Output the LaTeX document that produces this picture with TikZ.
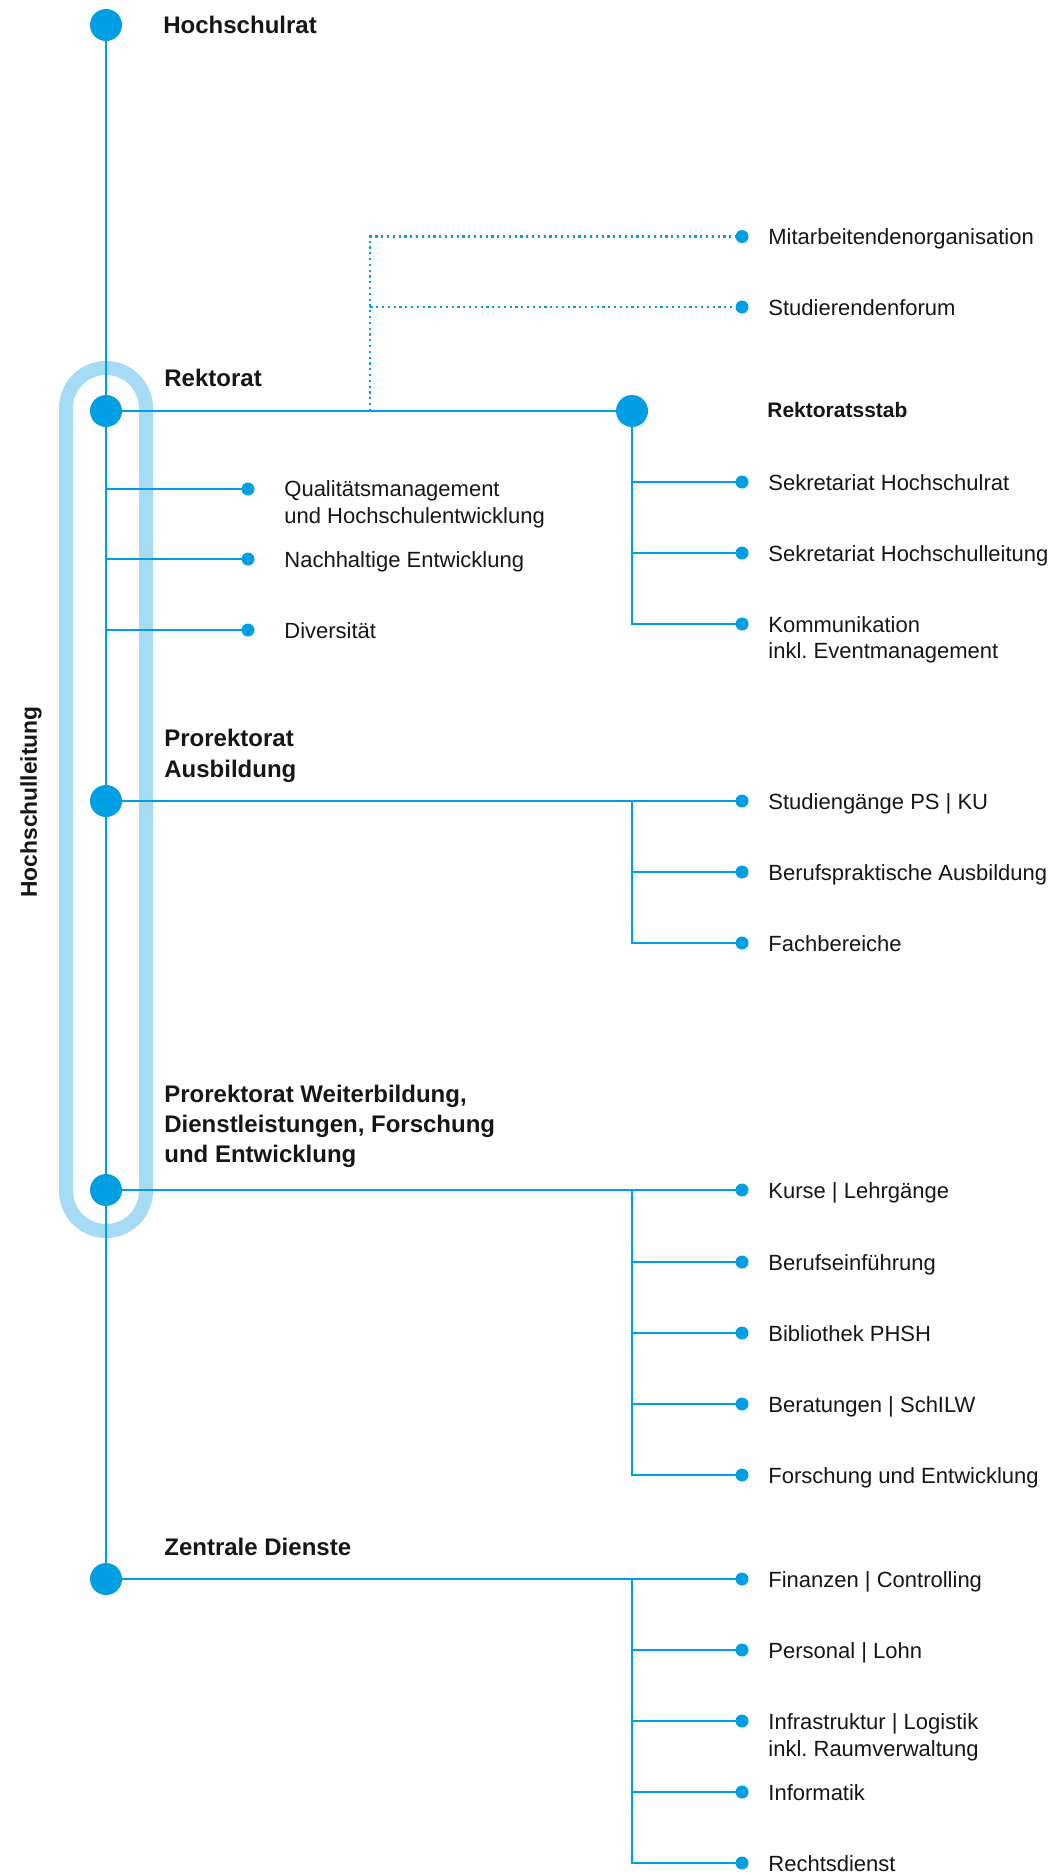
\documentclass[tikz,border=0pt]{standalone}
\usepackage{fontspec}
\setmainfont{Liberation Sans}
\usetikzlibrary{backgrounds}
\definecolor{phblue}{RGB}{0,159,227}
\definecolor{phlight}{RGB}{166,219,246}
\definecolor{ink}{RGB}{22,22,22}
\frenchspacing
\begin{document}
\begin{tikzpicture}[x=0.5pt,y=-0.5pt,
  big/.style={circle,fill=phblue,inner sep=0pt,minimum size=16pt},
  dot/.style={circle,fill=phblue,inner sep=0pt,minimum size=6.5pt},
  conn/.style={draw=phblue,line width=1.3pt},
  dotconn/.style={draw=phblue,line width=1.1pt,dash pattern=on 1.1pt off 1.8pt},
  pill/.style={draw=phlight,line width=7pt,rounded corners=20pt},
  head/.style={anchor=base west,inner sep=0pt,text=ink,font=\fontsize{12pt}{14pt}\selectfont\bfseries},
  subhead/.style={anchor=base west,inner sep=0pt,text=ink,font=\fontsize{10.5pt}{13pt}\selectfont\bfseries},
  lbl/.style={anchor=base west,inner sep=0pt,text=ink,font=\fontsize{11pt}{13pt}\selectfont},
]
\useasboundingbox (0,0) rectangle (1050,1874);

% main circles
\node[big] (HR) at (106,25) {};
\node[big] (RK) at (106,411) {};
\node[big] (PA) at (106,801) {};
\node[big] (PW) at (106,1190) {};
\node[big] (ZD) at (106,1579) {};
\node[big] (RS) at (632,411) {};

% headings
\node[head] (tHR) at (163,33) {Hochschulrat};
\node[head] (tRK) at (164,386) {Rektorat};
\node[head] (tPA1) at (164,746) {Prorektorat};
\node[head] (tPA2) at (164,777) {Ausbildung};
\node[head] (tPW1) at (164,1102) {Prorektorat Weiterbildung,};
\node[head] (tPW2) at (164,1132) {Dienstleistungen, Forschung};
\node[head] (tPW3) at (164,1162) {und Entwicklung};
\node[head] (tZD) at (164,1555) {Zentrale Dienste};
\node[subhead] (tRS) at (767,417) {Rektoratsstab};
\node[anchor=center,inner sep=0pt,text=ink,rotate=90,font=\fontsize{11.4pt}{13pt}\selectfont\bfseries] (HL) at (31,802) {Hochschulleitung};

% dotted (employee / student bodies)
\node[dot] (m1) at (742,236.5) {};
\node[dot] (m2) at (742,307) {};
\node[lbl] (tm1) at (768,244.5) {Mitarbeitendenorganisation};
\node[lbl] (tm2) at (768,315) {Studierendenforum};
\coordinate (dj) at (370,411);

% Rektoratsstab
\node[dot] (s1) at (742,482) {};
\node[dot] (s2) at (742,553) {};
\node[dot] (s3) at (742,624) {};
\node[lbl] (ts1) at (768,490) {Sekretariat Hochschulrat};
\node[lbl] (ts2) at (768,561) {Sekretariat Hochschulleitung};
\node[lbl] (ts3) at (768,632) {Kommunikation};
\node[lbl] (ts3b) at (768,658) {inkl. Eventmanagement};

% Rektorat left branches
\node[dot] (q1) at (248,489) {};
\node[dot] (q2) at (248,559) {};
\node[dot] (q3) at (248,630) {};
\node[lbl] (tq1) at (284,496) {Qualitätsmanagement};
\node[lbl] (tq1b) at (284,523) {und Hochschulentwicklung};
\node[lbl] (tq2) at (284,567) {Nachhaltige Entwicklung};
\node[lbl] (tq3) at (284,638) {Diversität};

% Prorektorat Ausbildung
\node[dot] (a1) at (742,801) {};
\node[dot] (a2) at (742,872) {};
\node[dot] (a3) at (742,943) {};
\node[lbl] (ta1) at (768,809) {Studiengänge PS | KU};
\node[lbl] (ta2) at (768,880) {Berufspraktische Ausbildung};
\node[lbl] (ta3) at (768,951) {Fachbereiche};
\coordinate (av) at (632,801);

% Prorektorat Weiterbildung
\node[dot] (w1) at (742,1190) {};
\node[dot] (w2) at (742,1262) {};
\node[dot] (w3) at (742,1333) {};
\node[dot] (w4) at (742,1404) {};
\node[dot] (w5) at (742,1475) {};
\node[lbl] (tw1) at (768,1198) {Kurse | Lehrgänge};
\node[lbl] (tw2) at (768,1270) {Berufseinführung};
\node[lbl] (tw3) at (768,1341) {Bibliothek PHSH};
\node[lbl] (tw4) at (768,1412) {Beratungen | SchILW};
\node[lbl] (tw5) at (768,1483) {Forschung und Entwicklung};
\coordinate (wv) at (632,1190);

% Zentrale Dienste
\node[dot] (z1) at (742,1579) {};
\node[dot] (z2) at (742,1650) {};
\node[dot] (z3) at (742,1721) {};
\node[dot] (z4) at (742,1792) {};
\node[dot] (z5) at (742,1863) {};
\node[lbl] (tz1) at (768,1587) {Finanzen | Controlling};
\node[lbl] (tz2) at (768,1658) {Personal | Lohn};
\node[lbl] (tz3) at (768,1729) {Infrastruktur | Logistik};
\node[lbl] (tz3b) at (768,1756) {inkl. Raumverwaltung};
\node[lbl] (tz4) at (768,1800) {Informatik};
\node[lbl] (tz5) at (768,1871) {Rechtsdienst};
\coordinate (zv) at (632,1579);

\begin{scope}[on background layer]
  % Hochschulleitung bracket
  \draw[pill] (66,368) rectangle (146,1231);
  % spine
  \draw[conn] (HR.center) -- (ZD.center);
  % Rektorat
  \draw[conn] (RK.center) -- (RS.center);
  \draw[dotconn] (dj) |- (m1.center);
  \draw[dotconn] (dj) |- (m2.center);
  \draw[conn] (RS.center) |- (s1.center);
  \draw[conn] (RS.center) |- (s2.center);
  \draw[conn] (RS.center) |- (s3.center);
  \draw[conn] (RK.center |- q1.center) -- (q1.center);
  \draw[conn] (RK.center |- q2.center) -- (q2.center);
  \draw[conn] (RK.center |- q3.center) -- (q3.center);
  % Prorektorat Ausbildung
  \draw[conn] (PA.center) -- (a1.center);
  \draw[conn] (av) |- (a2.center);
  \draw[conn] (av) |- (a3.center);
  % Prorektorat Weiterbildung
  \draw[conn] (PW.center) -- (w1.center);
  \draw[conn] (wv) |- (w2.center);
  \draw[conn] (wv) |- (w3.center);
  \draw[conn] (wv) |- (w4.center);
  \draw[conn] (wv) |- (w5.center);
  % Zentrale Dienste
  \draw[conn] (ZD.center) -- (z1.center);
  \draw[conn] (zv) |- (z2.center);
  \draw[conn] (zv) |- (z3.center);
  \draw[conn] (zv) |- (z4.center);
  \draw[conn] (zv) |- (z5.center);
\end{scope}
\end{tikzpicture}
\end{document}
